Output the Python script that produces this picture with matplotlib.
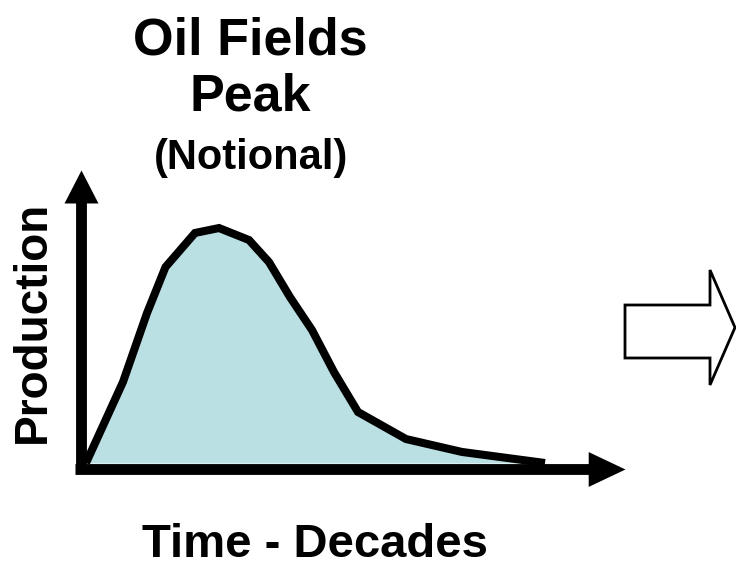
import matplotlib
matplotlib.use("Agg")
import matplotlib.pyplot as plt
from matplotlib.patches import Polygon
from matplotlib.path import Path

plt.rcParams['font.family'] = ['Liberation Sans', 'DejaVu Sans']

# Notional data: time (decades) vs production (peak = 100)
time_decades = [0.0, 0.74, 1.22, 1.59, 2.18, 2.66, 3.26, 3.66, 4.08, 4.52, 4.96, 5.44, 6.40, 7.52, 9.18]
production = [0.0, 34.5, 63.8, 83.4, 97.9, 100.0, 94.9, 85.5, 70.6, 56.6, 38.7, 21.7, 10.2, 4.7, 0.0]

title_lines = ["Oil Fields", "Peak"]
subtitle = "(Notional)"
xlabel = "Time - Decades"
ylabel = "Production"

W, H = 736, 566
fig = plt.figure(figsize=(W / 100, H / 100), dpi=100)

def fx(px):
    return px / W

def fy(py):
    return 1 - py / H

# axes: origin at the axis line centres, top/right at arrow tips
ax_left, ax_bottom_px, ax_right, ax_top_px = 80.5, 468.5, 625, 170
ax = fig.add_axes([fx(ax_left), fy(ax_bottom_px), (ax_right - ax_left) / W,
                   (ax_bottom_px - ax_top_px) / H])
ax.set_xlim(-0.11, 10.78)
ax.set_ylim(-2.34, 124.7)
ax.axis('off')

fill_color = '#BBE0E3'
ax.fill_between(time_decades, production, 0, color=fill_color, lw=0, zorder=1)
ax.plot(time_decades, production, color='black', lw=5.8, solid_joinstyle='miter',
        solid_capstyle='butt', zorder=2, clip_on=False)

# axis arrows
axis_lw = 7.8
head_up = Path([(0, 0), (-0.515, -1), (0.515, -1), (0, 0)],
               [Path.MOVETO, Path.LINETO, Path.LINETO, Path.CLOSEPOLY])
head_right = Path([(0, 0), (-1, 0.473), (-1, -0.473), (0, 0)],
                  [Path.MOVETO, Path.LINETO, Path.LINETO, Path.CLOSEPOLY])
ax.plot([0, 0], [-0.0, 0.93], transform=ax.transAxes, color='black', lw=axis_lw,
        solid_capstyle='butt', clip_on=False, zorder=3)
ax.plot([0], [1], transform=ax.transAxes, marker=head_up, markersize=47.5,
        color='black', markeredgewidth=0, clip_on=False, zorder=3)
ax.plot([-0.01, 0.95], [0, 0], transform=ax.transAxes, color='black', lw=axis_lw,
        solid_capstyle='butt', clip_on=False, zorder=3)
ax.plot([1], [0], transform=ax.transAxes, marker=head_right, markersize=53,
        color='black', markeredgewidth=0, clip_on=False, zorder=3)

# titles
fig.text(fx(250), fy(41), title_lines[0], ha='center', va='center',
         fontsize=37.5, fontweight='bold')
fig.text(fx(250), fy(97), title_lines[1], ha='center', va='center',
         fontsize=37.5, fontweight='bold')
fig.text(fx(251), fy(158), subtitle, ha='center', va='center',
         fontsize=30, fontweight='bold')
fig.text(fx(315), fy(545), xlabel, ha='center', va='center',
         fontsize=34, fontweight='bold')
fig.text(fx(33), fy(322), ylabel, ha='center', va='center', rotation=90,
         fontsize=33, fontweight='bold')

# block arrow to the right
arrow_px = [(625, 305), (710, 305), (710, 270), (735, 327.5), (710, 385),
            (710, 358), (625, 358)]
arrow = Polygon([(fx(x), fy(y)) for x, y in arrow_px], closed=True,
                transform=fig.transFigure, facecolor='white', edgecolor='black',
                lw=2, joinstyle='miter')
fig.patches.append(arrow)

fig.savefig('out.png', dpi=100, facecolor='white')
